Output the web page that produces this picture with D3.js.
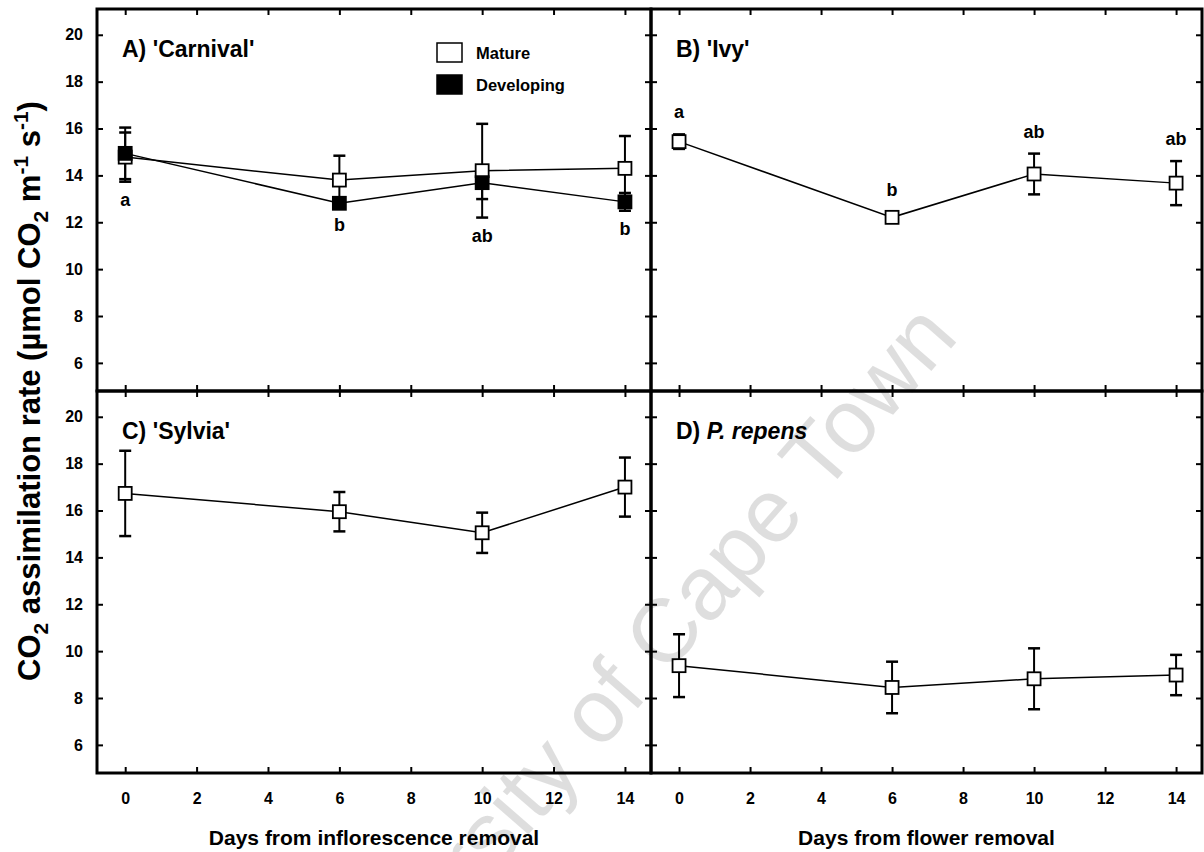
<!DOCTYPE html>
<html>
<head>
<meta charset="utf-8">
<script src="https://cdn.jsdelivr.net/npm/d3@7"></script>
<style>
  body { margin: 0; background: #fff; }
  svg { display: block; }
  text { font-family: "Liberation Sans", Arial, Helvetica, sans-serif; font-weight: bold; fill: #000; }
</style>
</head>
<body>
<svg id="chart" width="1204" height="852"></svg>
<script>
// Sampling days and axis ticks
const days = [0, 6, 10, 14];
const xTicks = [0, 2, 4, 6, 8, 10, 12, 14];
const yTicks = [6, 8, 10, 12, 14, 16, 18, 20];

// A) 'Carnival' – mature and developing leaves (mean ± SE)
const carnivalMature = [14.78, 13.80, 14.20, 14.30];
const carnivalMatureSE = [1.05, 1.04, 2.00, 1.38];
const carnivalDeveloping = [14.94, 12.81, 13.69, 12.87];
const carnivalDevelopingSE = [1.10, 0.15, 0.70, 0.38];
const carnivalLetters = ["a", "b", "ab", "b"];

// B) 'Ivy'
const ivyMature = [15.44, 12.21, 14.06, 13.67];
const ivyMatureSE = [0.31, 0.22, 0.87, 0.94];
const ivyLetters = ["a", "b", "ab", "ab"];

// C) 'Sylvia'
const sylviaMature = [16.73, 15.95, 15.05, 17.00];
const sylviaMatureSE = [1.82, 0.84, 0.86, 1.26];

// D) P. repens
const repensMature = [9.38, 8.45, 8.82, 8.98];
const repensMatureSE = [1.34, 1.10, 1.30, 0.86];

const legendLabels = ["Mature", "Developing"];
const xTitles = ["Days from inflorescence removal", "Days from flower removal"];

const svg = d3.select("#chart");

const xDomain = [-0.79, 14.73];
const yDomain = [4.8, 21.1];

const panels = [
  { x0: 97, x1: 651, y0: 9, y1: 391, title: [{ t: "A) 'Carnival'" }],
    series: [
      { values: carnivalMature, se: carnivalMatureSE, fill: "#fff" },
      { values: carnivalDeveloping, se: carnivalDevelopingSE, fill: "#000" }
    ],
    letters: carnivalLetters, letterSide: "below", yLabels: true, xLabels: false, legend: true },
  { x0: 651, x1: 1202, y0: 9, y1: 391, title: [{ t: "B) 'Ivy'" }],
    series: [{ values: ivyMature, se: ivyMatureSE, fill: "#fff" }],
    letters: ivyLetters, letterSide: "above", yLabels: false, xLabels: false },
  { x0: 97, x1: 651, y0: 391, y1: 773, title: [{ t: "C) 'Sylvia'" }],
    series: [{ values: sylviaMature, se: sylviaMatureSE, fill: "#fff" }],
    yLabels: true, xLabels: true, xTitle: xTitles[0] },
  { x0: 651, x1: 1202, y0: 391, y1: 773, title: [{ t: "D) " }, { t: "P. repens", italic: true }],
    series: [{ values: repensMature, se: repensMatureSE, fill: "#fff" }],
    yLabels: false, xLabels: true, xTitle: xTitles[1] }
];

panels.forEach(p => {
  const x = d3.scaleLinear().domain(xDomain).range([p.x0, p.x1]);
  const y = d3.scaleLinear().domain(yDomain).range([p.y1, p.y0]);
  const g = svg.append("g");

  // inward ticks on all four sides
  const tickStyle = sel => {
    sel.select(".domain").remove();
    sel.selectAll(".tick line").attr("stroke", "#000").attr("stroke-width", 2);
    sel.selectAll(".tick text").style("font-size", "16px").style("font-weight", "bold");
  };
  g.append("g").attr("transform", `translate(${p.x0},0)`)
    .call(d3.axisLeft(y).tickValues(yTicks).tickSize(-6).tickPadding(14)
      .tickFormat(p.yLabels ? d3.format("d") : () => ""))
    .call(tickStyle);
  g.append("g").attr("transform", `translate(${p.x1},0)`)
    .call(d3.axisRight(y).tickValues(yTicks).tickSize(-6).tickFormat(() => ""))
    .call(tickStyle);
  g.append("g").attr("transform", `translate(0,${p.y0})`)
    .call(d3.axisTop(x).tickValues(xTicks).tickSize(-6).tickFormat(() => ""))
    .call(tickStyle);
  g.append("g").attr("transform", `translate(0,${p.y1})`)
    .call(d3.axisBottom(x).tickValues(xTicks).tickSize(-6).tickPadding(20)
      .tickFormat(p.xLabels ? d3.format("d") : () => ""))
    .call(tickStyle);

  // frame
  g.append("rect")
    .attr("x", p.x0).attr("y", p.y0)
    .attr("width", p.x1 - p.x0).attr("height", p.y1 - p.y0)
    .attr("fill", "none").attr("stroke", "#000").attr("stroke-width", 3);

  // panel title
  const title = g.append("text")
    .attr("x", p.x0 + 25).attr("y", p.y0 + 48)
    .style("font-size", "23px");
  p.title.forEach(part => {
    title.append("tspan").text(part.t).style("font-style", part.italic ? "italic" : "normal");
  });

  // error bars
  const cap = 6;
  p.series.forEach(s => {
    const eb = g.append("g").attr("stroke", "#000");
    days.forEach((d, i) => {
      const hi = y(s.values[i] + s.se[i]);
      const lo = y(s.values[i] - s.se[i]);
      eb.append("line").attr("x1", x(d)).attr("x2", x(d)).attr("y1", hi).attr("y2", lo).attr("stroke-width", 2);
      eb.append("line").attr("x1", x(d) - cap).attr("x2", x(d) + cap).attr("y1", hi).attr("y2", hi).attr("stroke-width", 2.5);
      eb.append("line").attr("x1", x(d) - cap).attr("x2", x(d) + cap).attr("y1", lo).attr("y2", lo).attr("stroke-width", 2.5);
    });
  });

  // connecting lines
  const line = d3.line().x((v, i) => x(days[i])).y(v => y(v));
  p.series.forEach(s => {
    g.append("path").attr("d", line(s.values))
      .attr("fill", "none").attr("stroke", "#000").attr("stroke-width", 1.5);
  });

  // square markers
  const size = 13;
  p.series.forEach(s => {
    g.append("g").selectAll("rect").data(s.values).join("rect")
      .attr("x", (v, i) => x(days[i]) - size / 2)
      .attr("y", v => y(v) - size / 2)
      .attr("width", size).attr("height", size)
      .attr("fill", s.fill).attr("stroke", "#000").attr("stroke-width", 1.8);
  });

  // significance letters
  if (p.letters) {
    p.letters.forEach((lab, i) => {
      let yy;
      if (p.letterSide === "below") {
        const low = d3.min(p.series, s => s.values[i] - s.se[i]);
        yy = y(low) + 18 + 6;
      } else {
        const high = d3.max(p.series, s => s.values[i] + s.se[i]);
        yy = y(high) - 22 + 6;
      }
      g.append("text").attr("x", x(days[i])).attr("y", yy)
        .attr("text-anchor", "middle").style("font-size", "18px").text(lab);
    });
  }

  // legend
  if (p.legend) {
    const lg = g.append("g");
    ["#fff", "#000"].forEach((f, i) => {
      lg.append("rect").attr("x", 437).attr("y", 43 + i * 32).attr("width", 25).attr("height", 19)
        .attr("fill", f).attr("stroke", "#000").attr("stroke-width", 1.5);
      lg.append("text").attr("x", 476).attr("y", 59 + i * 32)
        .style("font-size", "16.5px").text(legendLabels[i]);
    });
  }

  // x-axis title
  if (p.xTitle) {
    svg.append("text").attr("x", (p.x0 + p.x1) / 2).attr("y", 845)
      .attr("text-anchor", "middle").style("font-size", "21px").text(p.xTitle);
  }
});

// shared y-axis title
const yt = svg.append("text")
  .attr("transform", "translate(40,391) rotate(-90)")
  .attr("text-anchor", "middle")
  .style("font-size", "31px");
yt.append("tspan").text("CO");
yt.append("tspan").text("2").attr("dy", 8).style("font-size", "21px");
yt.append("tspan").text(" assimilation rate (µmol CO").attr("dy", -8);
yt.append("tspan").text("2").attr("dy", 8).style("font-size", "21px");
yt.append("tspan").text(" m").attr("dy", -8);
yt.append("tspan").text("-1").attr("dy", -12).style("font-size", "21px");
yt.append("tspan").text(" s").attr("dy", 12);
yt.append("tspan").text("-1").attr("dy", -12).style("font-size", "21px");
yt.append("tspan").text(")").attr("dy", 12);

// institutional watermark
svg.append("text")
  .attr("transform", "translate(960,338) rotate(-49)")
  .attr("text-anchor", "end")
  .style("font-weight", "normal")
  .style("font-size", "90px")
  .style("fill", "#000")
  .style("fill-opacity", 0.13)
  .text("University of Cape Town");
</script>
</body>
</html>
